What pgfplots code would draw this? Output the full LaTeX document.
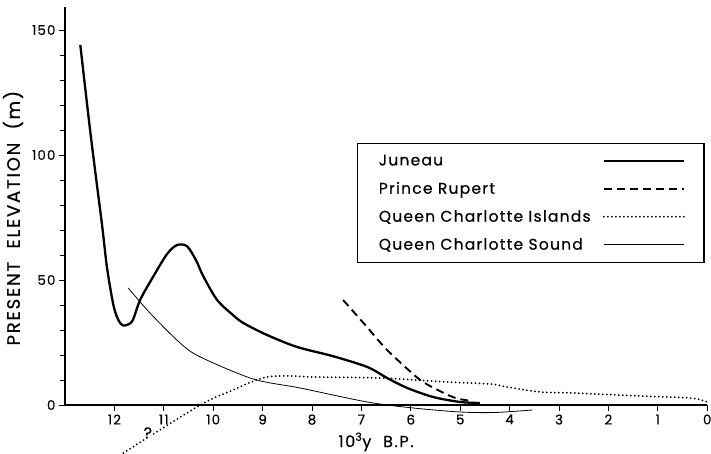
\documentclass[border=0pt]{standalone}
\usepackage{fontspec}
\setmainfont{Poppins}
\newfontfamily\legfont[LetterSpace=8,FakeBold=0.5]{Poppins}
\newfontfamily\labfont[LetterSpace=10,FakeBold=0.5]{Poppins}
\newfontfamily\tickfont[LetterSpace=8,FakeBold=0.4]{Poppins}
\usepackage{pgfplots}
\pgfplotsset{compat=1.18}
\begin{document}
\begin{tikzpicture}
\begin{axis}[name=ax,
  scale only axis, width=642.2pt, height=397.5pt,
  xmin=0, xmax=13, ymin=0, ymax=159, x dir=reverse,
  axis x line*=bottom, axis y line*=left,
  axis line style={line width=1.4pt},
  clip=false,
  xtick={0,...,12}, ytick={0,50,100,150},
  minor ytick={10,20,30,40,60,70,80,90,110,120,130,140},
  tick align=outside, major tick length=6pt, minor tick length=5pt,
  tick style={line width=0.9pt, black},
  /pgf/number format/assume math mode=true,
  ticklabel style={font=\tickfont\fontsize{13.5}{15}\selectfont},
  xlabel={10\textsuperscript{3}y\ \ B.P.},
  ylabel={PRESENT\ \ ELEVATION\ \ (m)},
  xlabel style={font=\labfont\fontsize{16}{18}\selectfont, xshift=-10pt, yshift=-1pt},
  ylabel style={font=\labfont\fontsize{18}{20}\selectfont, at={(ticklabel cs:0.47)}, yshift=2pt},
  legend style={at={(axis cs:7.085,104.8)}, anchor=north west, draw=black,
    line width=1.3pt, inner xsep=19pt, inner ysep=9pt, row sep=11pt,
    font=\legfont\fontsize{15.5}{18}\selectfont, cells={anchor=west},
    /tikz/every odd column/.append style={column sep=10pt}},
  legend plot pos=right,
  legend cell align=left,
  legend image code/.code={\draw[#1] (0pt,0pt) -- (80pt,0pt);},
]
\addplot[black, line width=2.3pt, smooth, tension=0.5] coordinates {
(12.69,144) (12.48,108) (12.25,72) (12.15,55) (12.02,40) (11.92,34) (11.82,31.8)
(11.64,33.5) (11.48,42) (11.21,51.5) (10.93,60.5) (10.73,64) (10.53,63.5)
(10.35,58) (10.2,51.5) (9.92,42) (9.6,36) (9.39,32.8) (8.91,28) (8.30,23.2) (7.57,19.5)
(6.88,15.2) (6.48,10.8) (6.07,6.8) (5.55,3.2) (5.0,1.2) (4.6,0.8)};
\addlegendentry{Juneau}
\addplot[black, line width=1.9pt, dash pattern=on 8pt off 5pt, smooth, tension=0.4] coordinates {
(7.37,42) (6.9,31.5) (6.48,22) (5.81,10) (5.3,4.5) (5.06,2.6) (4.75,1.5)};
\addlegendentry{Prince Rupert}
\addplot[black, line width=2pt, line cap=round, dash pattern=on 0pt off 4pt, smooth, tension=0.5] coordinates {
(11.82,-19.2) (10.26,0) (9.6,6) (9.19,9.5) (8.85,11.4) (8.4,11.6) (7.98,11.2)
(6.62,10.8) (5.26,9.2) (4.39,8.4) (4.05,7.2) (3.38,5.2) (2.71,4.8) (1.36,3.6)
(0.34,2.8) (0,1.2)};
\addlegendentry{Queen Charlotte Islands}
\addplot[black, line width=0.8pt, smooth, tension=0.5] coordinates {
(11.72,46.8) (11.28,36.8) (10.67,24.8) (10.26,19.2) (9.19,10.4) (8.24,6.8)
(6.88,1.2) (5.95,-1.2) (5.0,-2.8) (4.3,-3) (3.54,-2)};
\addlegendentry{Queen Charlotte Sound}
\node[fill=white, inner sep=0.5pt, font=\legfont\fontsize{16}{18}\selectfont] at (axis cs:11.32,-11.2) {?};
\end{axis}
\pgfresetboundingbox
\path[use as bounding box] ([shift={(-65pt,-49pt)}]ax.south west) rectangle ++(711pt,454pt);
\end{tikzpicture}
\end{document}
